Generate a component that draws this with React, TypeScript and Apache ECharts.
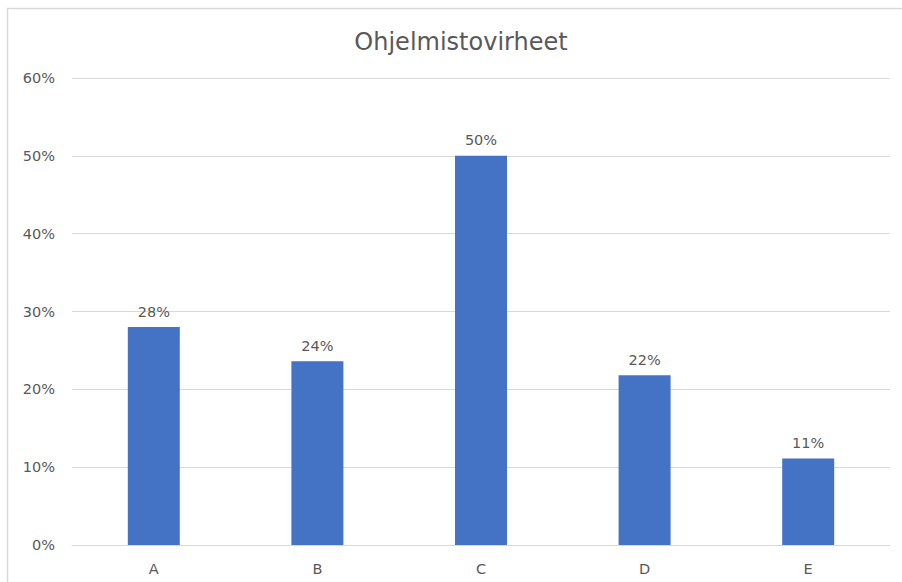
import React, { useEffect, useRef } from "react";
import * as echarts from "echarts";

const title = "Ohjelmistovirheet";
const categories = ["A", "B", "C", "D", "E"];
const shares = [0.28, 0.236, 0.5, 0.218, 0.111];
const yMax = 0.6;
const yStep = 0.1;

const textColor = "#595959";
const gridColor = "#d9d9d9";
const barColor = "#4472c4";
const font = "'DejaVu Sans', 'Noto Sans', sans-serif";

const pct = (v: number) => `${Math.round(v * 100)}%`;

export default function App() {
  const ref = useRef<HTMLDivElement>(null);

  useEffect(() => {
    if (!ref.current) return;
    const chart = echarts.init(ref.current, undefined, { renderer: "svg" });
    chart.setOption({
      animation: false,
      backgroundColor: "#ffffff",
      textStyle: { fontFamily: font },
      title: {
        text: title,
        left: 456,
        top: 25,
        textAlign: "center",
        textStyle: { fontFamily: font, fontSize: 24, fontWeight: "normal", color: textColor },
      },
      graphic: [
        {
          type: "rect",
          shape: { x: 7.5, y: 8.5, width: 1000, height: 1000 },
          style: { fill: "none", stroke: gridColor, lineWidth: 1.5 },
          silent: true,
        },
      ],
      grid: { left: 72, right: 12, top: 78, bottom: 37, containLabel: false },
      xAxis: {
        type: "category",
        data: categories,
        axisLine: { show: true, lineStyle: { color: gridColor, width: 1 } },
        axisTick: { show: false },
        axisLabel: { color: textColor, fontSize: 14.5, margin: 16, fontFamily: font },
      },
      yAxis: {
        type: "value",
        min: 0,
        max: yMax,
        interval: yStep,
        axisLine: { show: false },
        axisTick: { show: false },
        splitLine: { lineStyle: { color: gridColor, width: 1 } },
        axisLabel: {
          color: textColor,
          fontSize: 14.5,
          margin: 17,
          fontFamily: font,
          formatter: (v: number) => pct(v),
        },
      },
      series: [
        {
          type: "bar",
          data: shares,
          barWidth: 52,
          itemStyle: { color: barColor },
          label: {
            show: true,
            position: "top",
            distance: 8,
            color: textColor,
            fontSize: 14.5,
            fontFamily: font,
            formatter: (p: any) => pct(p.value),
          },
        },
      ],
    });
    return () => chart.dispose();
  }, []);

  return (
    <div
      ref={ref}
      style={{ position: "fixed", left: 0, top: 0, width: 902, height: 582 }}
    />
  );
}
